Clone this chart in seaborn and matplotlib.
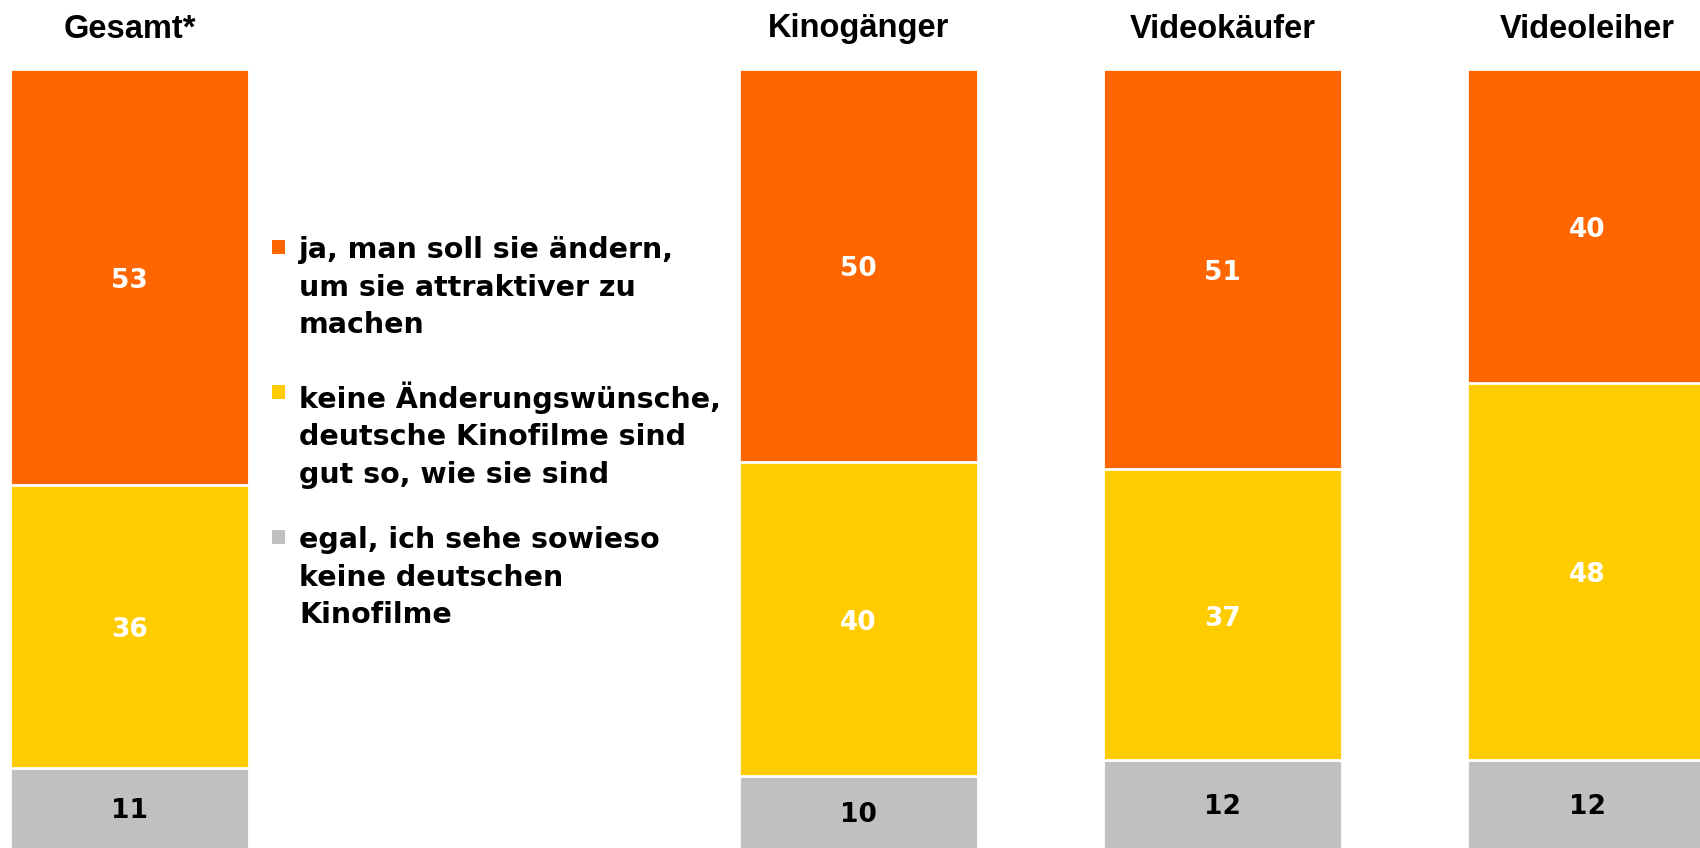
import matplotlib
matplotlib.use('Agg')
import matplotlib.pyplot as plt
import matplotlib.transforms as mtransforms
import pandas as pd
import seaborn as sns
from matplotlib.patches import Rectangle

groups = ['Gesamt*', 'Kinogänger', 'Videokäufer', 'Videoleiher']
ja_aendern = [53, 50, 51, 40]
keine_aenderung = [36, 40, 37, 48]
egal = [11, 10, 12, 12]

legend_labels = ['ja, man soll sie ändern,\num sie attraktiver zu\nmachen',
                 'keine Änderungswünsche,\ndeutsche Kinofilme sind\ngut so, wie sie sind',
                 'egal, ich sehe sowieso\nkeine deutschen\nKinofilme']
colors = ['#FF6600', '#FFCC00', '#C0C0C0']

# Lücke zwischen "Gesamt" und den übrigen Gruppen
order = ['Gesamt*', ' ', 'Kinogänger', 'Videokäufer', 'Videoleiher']

df = pd.DataFrame({'group': groups, 'ja': ja_aendern,
                   'keine': keine_aenderung, 'egal': egal})
df['top'] = df['ja'] + df['keine'] + df['egal']
df['mid'] = df['keine'] + df['egal']

sns.set_style('white')
fig = plt.figure(figsize=(17, 8.48), dpi=100)
ax = fig.add_axes([0, -6 / 848, 1, 785 / 848])

# gestapelte Balken: kumulierte Summen übereinander zeichnen
for col, c in zip(['top', 'mid', 'egal'], colors):
    sns.barplot(data=df, x='group', y=col, order=order, color=c, width=0.657,
                saturation=1, edgecolor='white', linewidth=2, ax=ax)

ax.set_xlim(-0.356, 4.31)
ax.set_ylim(0, 100)
ax.axis('off')

# Zahlen etwas nach unten versetzen
shift = ax.transData + mtransforms.ScaledTranslation(0, -4 / 100, fig.dpi_scale_trans)
title_tr = mtransforms.blended_transform_factory(ax.transData, fig.transFigure)
num_kw = dict(ha='center', va='center', fontsize=19, fontweight='bold',
              family='DejaVu Sans', transform=shift)

pos = {g: order.index(g) for g in groups}
for i, g in enumerate(groups):
    x = pos[g]
    e, k, j = egal[i], keine_aenderung[i], ja_aendern[i]
    ax.text(x, e + k + j / 2, str(j), color='white', **num_kw)
    ax.text(x, e + k / 2, str(k), color='white', **num_kw)
    ax.text(x, e / 2 + 0.5, str(e), color='black', **num_kw)
    ax.text(x, 1 - 29 / 848, g, transform=title_tr, ha='center', va='center',
            fontsize=23.5, fontweight='bold', family='Liberation Sans',
            color='black')

# Legende von Hand
leg_y = [248, 393, 538]
for lab, c, y in zip(legend_labels, colors, leg_y):
    fig.add_artist(Rectangle((272 / 1700, 1 - (y + 6) / 848), 13 / 1700, 14 / 848,
                             transform=fig.transFigure, color=c, lw=0))
    fig.text(299 / 1700, 1 - (y - 12) / 848, lab, ha='left', va='top',
             fontsize=20.5, fontweight='bold', family='DejaVu Sans',
             linespacing=1.44, color='black')

fig.savefig('out.png', dpi=100)
